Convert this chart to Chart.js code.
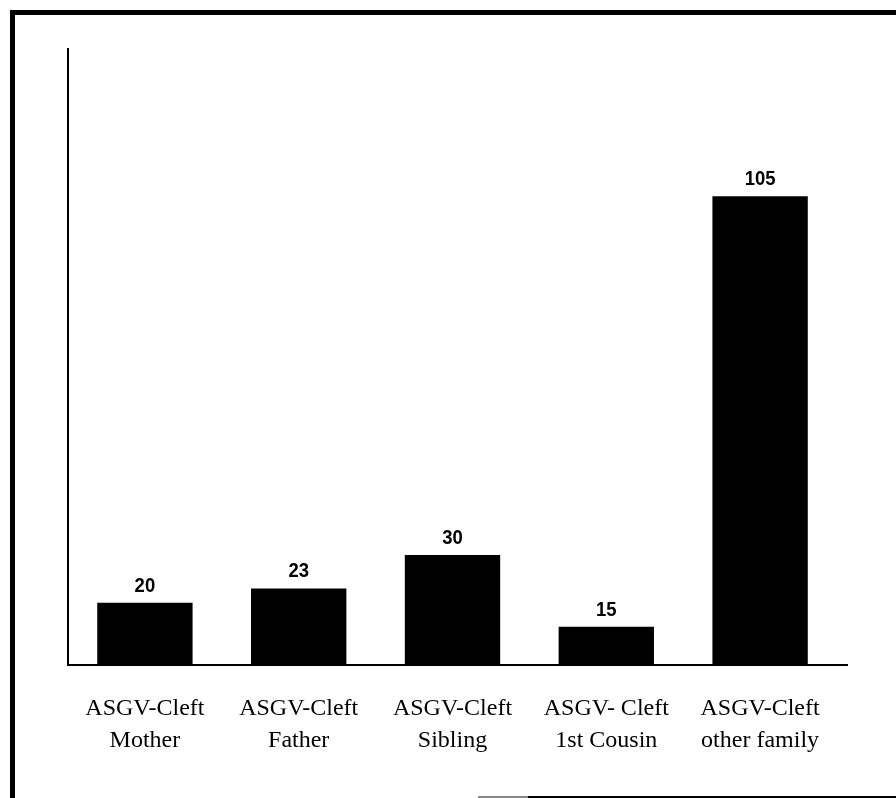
<!DOCTYPE html>
<html>
<head>
<meta charset="utf-8">
<script src="https://cdn.jsdelivr.net/npm/chart.js@4.4.1/dist/chart.umd.min.js"></script>
<style>
  html, body { margin: 0; padding: 0; background: #fff; }
  #wrap { position: relative; width: 896px; height: 798px; overflow: hidden; }
  #c { position: absolute; left: 0; top: 0; }
  .frame-l { position: absolute; left: 10px; top: 10px; width: 5px; height: 788px; background: #000; }
  .frame-t { position: absolute; left: 10px; top: 10px; width: 886px; height: 5px; background: #000; }
  .frame-b1 { position: absolute; left: 478px; top: 796px; width: 50px; height: 2px; background: #888; }
  .frame-b2 { position: absolute; left: 528px; top: 796px; width: 368px; height: 2px; background: #000; }
</style>
</head>
<body>
<div id="wrap">
  <canvas id="c" width="896" height="798"></canvas>
  <div class="frame-l"></div><div class="frame-t"></div>
  <div class="frame-b1"></div><div class="frame-b2"></div>
</div>
<script>
  // catégories (deux lignes chacune) et effectifs
  const categories = [
    ['ASGV-Cleft', 'Mother'],
    ['ASGV-Cleft', 'Father'],
    ['ASGV-Cleft', 'Sibling'],
    ['ASGV- Cleft', '1st Cousin'],
    ['ASGV-Cleft', 'other family'],
  ];
  const counts = [20, 23, 30, 15, 105];
  // l'axe d'origine ne part pas de zéro
  const Y_MIN = 7;
  const Y_MAX = 136;

  /* axes dessinés à la main : le trait horizontal dépasse la dernière barre */
  const axesPlugin = {
    id: 'axes',
    afterDatasetsDraw(chart) {
      const { ctx, chartArea: a } = chart;
      ctx.save();
      ctx.strokeStyle = '#000';
      ctx.lineWidth = 2;
      ctx.beginPath();
      ctx.moveTo(a.left, a.top);
      ctx.lineTo(a.left, a.bottom);
      ctx.lineTo(a.right + 11, a.bottom);
      ctx.stroke();
      ctx.restore();
    },
  };

  /* valeurs au-dessus des barres (gras, un peu condensé) */
  const valuePlugin = {
    id: 'values',
    afterDatasetsDraw(chart) {
      const { ctx } = chart;
      const meta = chart.getDatasetMeta(0);
      ctx.save();
      ctx.fillStyle = '#000';
      ctx.font = 'bold 21px "Liberation Sans", Arial, sans-serif';
      ctx.textAlign = 'center';
      ctx.textBaseline = 'alphabetic';
      meta.data.forEach((bar, i) => {
        ctx.save();
        ctx.translate(bar.x, bar.y - 11);
        ctx.scale(0.88, 1);
        ctx.fillText(String(counts[i]), 0, 0);
        ctx.restore();
      });
      ctx.restore();
    },
  };

  new Chart(document.getElementById('c'), {
    type: 'bar',
    data: {
      labels: categories,
      datasets: [{ data: counts, backgroundColor: '#000', borderWidth: 0, categoryPercentage: 1, barPercentage: 0.62 }],
    },
    options: {
      responsive: false, animation: false, devicePixelRatio: 1,
      layout: { padding: { left: 68, top: 48, right: 59, bottom: 0 } },
      plugins: { legend: { display: false }, tooltip: { enabled: false } },
      scales: {
        x: {
          grid: { display: false, drawTicks: false }, border: { display: false },
          ticks: {
            color: '#000', padding: 28, maxRotation: 0, autoSkip: false,
            font: { family: '"Liberation Serif", "Times New Roman", serif', size: 24, lineHeight: 1.33 },
          },
          afterFit: (s) => { s.height = 133; },
        },
        y: {
          min: Y_MIN, max: Y_MAX,
          grid: { display: false, drawTicks: false }, border: { display: false },
          ticks: { display: false },
          afterFit: (s) => { s.width = 0; },
        },
      },
    },
    plugins: [axesPlugin, valuePlugin],
  });
</script>
</body>
</html>
